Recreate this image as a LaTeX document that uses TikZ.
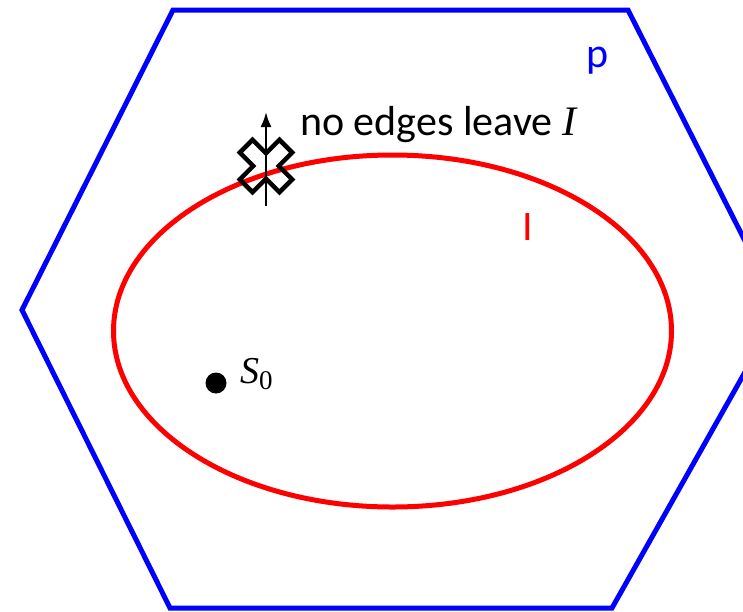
\documentclass[tikz,border=0pt]{standalone}
\usepackage{fontspec}
\setmainfont{Carlito}
\newfontfamily\mathserif{Liberation Serif}
\usetikzlibrary{arrows.meta}
\begin{document}
\begin{tikzpicture}[
        x=1pt, y=-1pt,
        region/.style={blue, line width=5pt, line join=miter},
        invariant/.style={red, line width=5pt},
        label text/.style={font=\fontsize{42}{50}\selectfont, inner sep=0pt},
        cross mark/.style={draw=black, line width=4.5pt, line join=miter},
        blocked/.style={line width=2.2pt, -{Latex[length=15pt,width=11pt]}}
    ]
    \useasboundingbox (0,0) rectangle (743,611);
    \clip (0,0) rectangle (743,611);

    % state space
    \draw[region] (173,10) -- (628,10) -- (780,310) -- (612,608) -- (170,608) -- (22,310) -- cycle;
    \node[label text, blue, anchor=base] (plabel) at (598,67) {p};

    % invariant
    \draw[invariant] (392.5,331) ellipse [x radius=279, y radius=176];
    \node[label text, red, anchor=base] (ilabel) at (528,240) {I};

    % initial state
    \node[circle, fill=black, minimum size=21pt, inner sep=0pt] (start) at (216,383) {};
    \node[font=\fontsize{38}{44}\mathserif, inner sep=0pt, anchor=base west] (slabel) at (240,383)
        {\itshape S\raisebox{-6pt}{\fontsize{27}{30}\selectfont\upshape 0}};

    % no edge leaves the invariant
    \coordinate (cross) at (266,166);
    \coordinate (tail) at (266,206);
    \coordinate (tip) at (266,112);
    \draw[cross mark, shift={(cross)}, rotate=45]
        (9,28) -- (9,9) -- (28,9) -- (28,-9) -- (9,-9) -- (9,-28)
        -- (-9,-28) -- (-9,-9) -- (-28,-9) -- (-28,9) -- (-9,9) -- (-9,28) -- cycle;
    \draw[blocked] (tail) -- (tip);
    \node[label text, anchor=base west] (note) at (300,135)
        {no edges leave {\mathserif\itshape I}};
\end{tikzpicture}
\end{document}
